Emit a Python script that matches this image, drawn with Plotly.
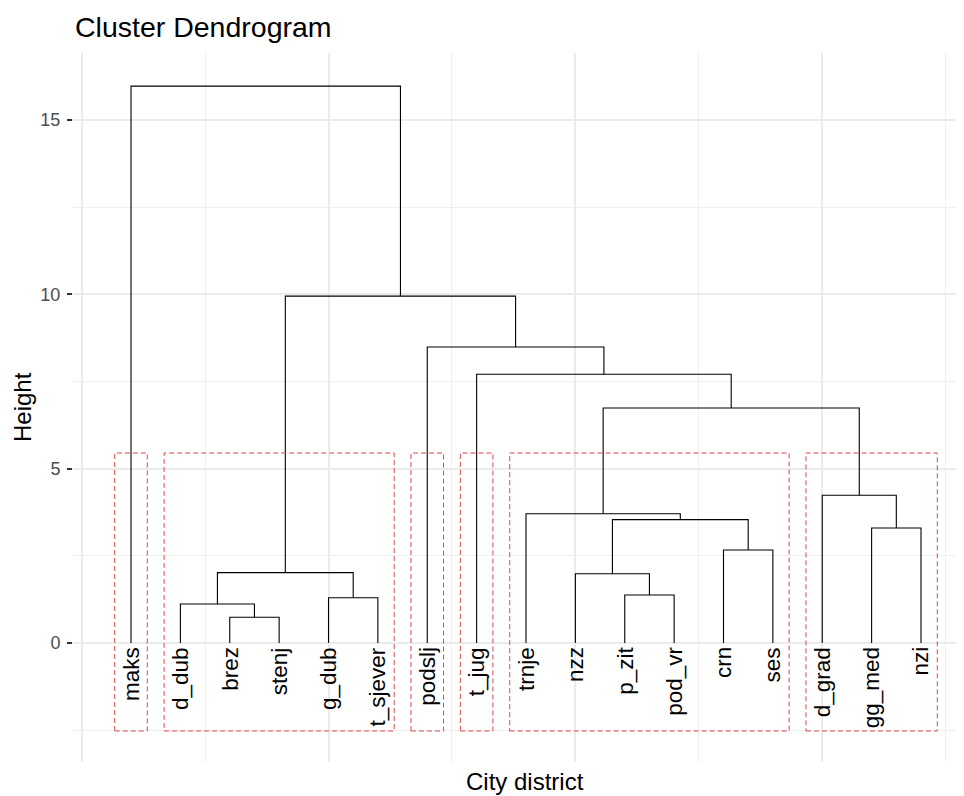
import plotly.graph_objects as go

# ---- data ----
leaf_labels = ["maks", "d_dub", "brez", "stenj", "g_dub", "t_sjever", "podslj", "t_jug",
               "trnje", "nzz", "p_zit", "pod_vr", "crn", "ses", "d_grad", "gg_med", "nzi"]

# merges (hclust style): children are leaf names or "m<k>" (k = 1-based merge index)
merge_left = ["brez", "d_dub", "g_dub", "p_zit", "nzz", "m2", "crn", "gg_med",
              "m5", "trnje", "d_grad", "m10", "t_jug", "podslj", "m6", "maks"]
merge_right = ["stenj", "m1", "t_sjever", "pod_vr", "m4", "m3", "ses", "nzi",
               "m7", "m9", "m8", "m11", "m12", "m13", "m14", "m15"]
merge_height = [0.74, 1.12, 1.30, 1.38, 1.99, 2.02, 2.67, 3.30,
                3.54, 3.71, 4.24, 6.74, 7.71, 8.49, 9.95, 15.97]

cluster_sizes = [1, 5, 1, 1, 6, 3]
rect_top = 5.45
rect_bottom = -2.52

y_ticks = [0, 5, 10, 15]

# ---- geometry of the dendrogram ----
pos = {lab: i + 1 for i, lab in enumerate(leaf_labels)}
hgt = {lab: 0.0 for lab in leaf_labels}
xs, ys = [], []
for k, (a, b, h) in enumerate(zip(merge_left, merge_right, merge_height), start=1):
    xa, xb = pos[a], pos[b]
    xs += [xa, xa, xb, xb, None]
    ys += [hgt[a], h, h, hgt[b], None]
    name = f"m{k}"
    pos[name] = (xa + xb) / 2
    hgt[name] = h

FONT = "Liberation Sans, Arial, sans-serif"

fig = go.Figure()
fig.add_trace(go.Scatter(x=xs, y=ys, mode="lines",
                         line=dict(color="black", width=1.1),
                         hoverinfo="skip", showlegend=False))

# cluster rectangles
start = 1
for n in cluster_sizes:
    end = start + n - 1
    fig.add_shape(type="rect", xref="x", yref="y",
                  x0=start - 0.33, x1=end + 0.33, y0=rect_bottom, y1=rect_top,
                  line=dict(color="#E0474C", width=1, dash="5px,3px"),
                  fillcolor="rgba(0,0,0,0)", layer="above")
    start = end + 1

annotations = []
for i, lab in enumerate(leaf_labels):
    annotations.append(dict(x=i + 1, y=0, xref="x", yref="y", text=lab,
                            textangle=-90, showarrow=False, xanchor="center",
                            yanchor="top", yshift=-2,
                            font=dict(family=FONT, size=22.5, color="black")))

annotations.append(dict(x=0, y=1.0367, xref="paper", yref="paper",
                        text="Cluster Dendrogram", showarrow=False,
                        xanchor="left", yanchor="middle",
                        font=dict(family=FONT, size=28.5, color="black")))
annotations.append(dict(x=0.507, y=-0.027, xref="paper", yref="paper",
                        text="City district", showarrow=False,
                        xanchor="center", yanchor="middle",
                        font=dict(family=FONT, size=24, color="black")))
annotations.append(dict(x=-0.0572, y=0.5007, xref="paper", yref="paper",
                        text="Height", showarrow=False, textangle=-90,
                        xanchor="center", yanchor="middle",
                        font=dict(family=FONT, size=24, color="black")))

# page body has an 8px margin: figure is 956x788 placed at (8, 8)
fig.update_layout(
    width=956, height=788,
    margin=dict(l=65, r=0, t=45, b=34),
    paper_bgcolor="white", plot_bgcolor="white",
    showlegend=False,
    annotations=annotations,
    xaxis=dict(range=[-0.175, 17.871], tick0=0, dtick=5, showticklabels=False,
               ticks="", showgrid=True, gridcolor="#EBEBEB", gridwidth=1.6,
               zeroline=False, showline=False,
               minor=dict(tick0=0, dtick=2.5, showgrid=True,
                          gridcolor="#EFEFEF", gridwidth=0.8)),
    yaxis=dict(range=[-3.41, 16.92], tickmode="array", tickvals=y_ticks,
               ticktext=[str(v) for v in y_ticks],
               ticks="outside", ticklen=5, tickwidth=1.5, tickcolor="#333333",
               ticklabelstandoff=3,
               tickfont=dict(family=FONT, size=18, color="#4D4D4D"),
               showgrid=True, gridcolor="#EBEBEB", gridwidth=1.6,
               zeroline=False, showline=False,
               minor=dict(tick0=0, dtick=2.5, showgrid=True,
                          gridcolor="#EFEFEF", gridwidth=0.8)),
)

fig.write_html("out.html")
